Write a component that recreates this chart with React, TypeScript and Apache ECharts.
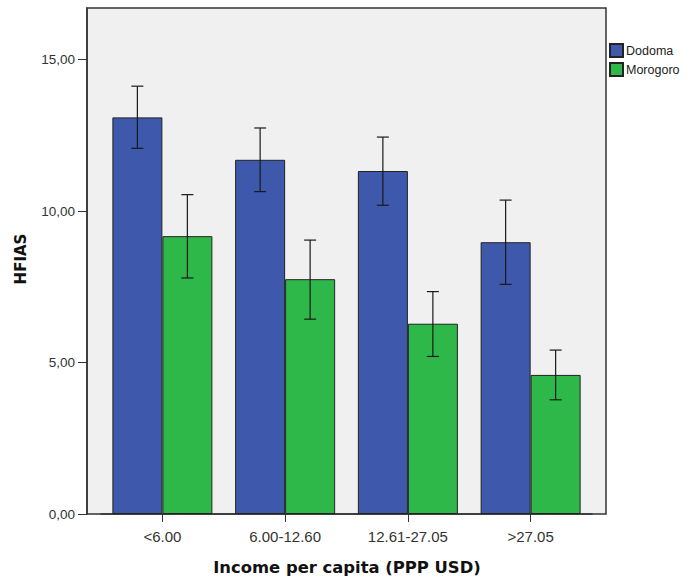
import React, { useEffect, useRef } from "react";
import * as echarts from "echarts";

const categories = ["<6.00", "6.00-12.60", "12.61-27.05", ">27.05"];
const seriesNames = ["Dodoma", "Morogoro"];
const dodomaMean = [13.09, 11.69, 11.32, 8.97];
const dodomaLow = [12.07, 10.64, 10.19, 7.58];
const dodomaHigh = [14.12, 12.74, 12.44, 10.36];
const morogoroMean = [9.17, 7.75, 6.28, 4.59];
const morogoroLow = [7.79, 6.43, 5.2, 3.77];
const morogoroHigh = [10.54, 9.04, 7.34, 5.41];
const yTicks = [0, 5, 10, 15];

const BLUE = "#3e58ac";
const GREEN = "#2fb84a";
const FONT = "Liberation Sans, Arial, sans-serif";
const TITLE_FONT = "DejaVu Sans, Verdana, sans-serif";

export default function App() {
  const ref = useRef<HTMLDivElement>(null);
  useEffect(() => {
    if (!ref.current) return;
    const chart = echarts.init(ref.current, undefined, { renderer: "svg" });
    const barW = 50;
    const errData = (low: number[], high: number[], off: number) =>
      categories.map((_, i) => [i, low[i], high[i], off]);
    const renderErr = (params: any, api: any) => {
      const i = api.value(0);
      const off = api.value(3);
      const lo = api.coord([i, api.value(1)]);
      const hi = api.coord([i, api.value(2)]);
      const x = lo[0] + off * (barW / 2);
      const cap = 6;
      const style = { stroke: "#1a1a1a", lineWidth: 1.2 };
      return {
        type: "group",
        children: [
          { type: "line", shape: { x1: x, y1: hi[1], x2: x, y2: lo[1] }, style },
          { type: "line", shape: { x1: x - cap, y1: hi[1], x2: x + cap, y2: hi[1] }, style },
          { type: "line", shape: { x1: x - cap, y1: lo[1], x2: x + cap, y2: lo[1] }, style },
        ],
      };
    };
    chart.setOption({
      animation: false,
      textStyle: { fontFamily: FONT },
      graphic: [
        {
          type: "rect",
          z: -10,
          silent: true,
          shape: { x: 87, y: 8, width: 519, height: 506 },
          style: { fill: "#f0f0f0", stroke: "#333", lineWidth: 1.5 },
        },
        {
          type: "text",
          x: 347,
          y: 567,
          style: {
            text: "Income per capita (PPP USD)",
            font: `bold 16.4px ${TITLE_FONT}`,
            fill: "#111",
            textAlign: "center",
            textVerticalAlign: "middle",
          },
        },
        {
          type: "text",
          x: 21,
          y: 259,
          rotation: Math.PI / 2,
          style: {
            text: "HFIAS",
            font: `bold 15px ${TITLE_FONT}`,
            fill: "#111",
            textAlign: "center",
            textVerticalAlign: "middle",
          },
        },
      ],
      legend: {
        orient: "vertical",
        left: 609,
        top: 43,
        itemWidth: 13,
        itemHeight: 13,
        itemGap: 4,
        icon: "rect",
        data: seriesNames,
        textStyle: { fontSize: 12.5, color: "#222", padding: [0, 0, 0, -2] },
        padding: 0,
      },
      grid: { left: 101, right: 95, top: 8, bottom: 65 },
      xAxis: {
        type: "category",
        data: categories,
        axisLine: { show: true, lineStyle: { color: "#333", width: 1.5 } },
        axisTick: { show: true, alignWithLabel: true, length: 8, lineStyle: { color: "#333" } },
        axisLabel: { fontSize: 15, color: "#333", margin: 15 },
      },
      yAxis: {
        type: "value",
        min: 0,
        max: 16.7,
        interval: 5,
        offset: 14,
        splitLine: { show: false },
        axisLine: { show: true, lineStyle: { color: "#333", width: 1.5 } },
        axisTick: { show: true, length: 9, lineStyle: { color: "#333" } },
        axisLabel: {
          fontSize: 13.5,
          color: "#333",
          margin: 12,
          showMaxLabel: false,
          formatter: (v: number) => (yTicks.includes(v) ? v.toFixed(2).replace(".", ",") : ""),
        },
      },
      series: [
        {
          name: seriesNames[0],
          type: "bar",
          data: dodomaMean,
          barWidth: barW,
          barGap: "0%",
          itemStyle: { color: BLUE, borderColor: "#222", borderWidth: 1 },
        },
        {
          name: seriesNames[1],
          type: "bar",
          data: morogoroMean,
          barWidth: barW,
          barGap: "0%",
          itemStyle: { color: GREEN, borderColor: "#222", borderWidth: 1 },
        },
        {
          type: "custom",
          renderItem: renderErr,
          data: errData(dodomaLow, dodomaHigh, -1),
          encode: { x: 0, y: [1, 2] },
          z: 10,
          silent: true,
        },
        {
          type: "custom",
          renderItem: renderErr,
          data: errData(morogoroLow, morogoroHigh, 1),
          encode: { x: 0, y: [1, 2] },
          z: 10,
          silent: true,
        },
      ],
    });
    return () => chart.dispose();
  }, []);
  return <div ref={ref} style={{ width: 687, height: 579, position: "absolute", left: 0, top: 0 }} />;
}
